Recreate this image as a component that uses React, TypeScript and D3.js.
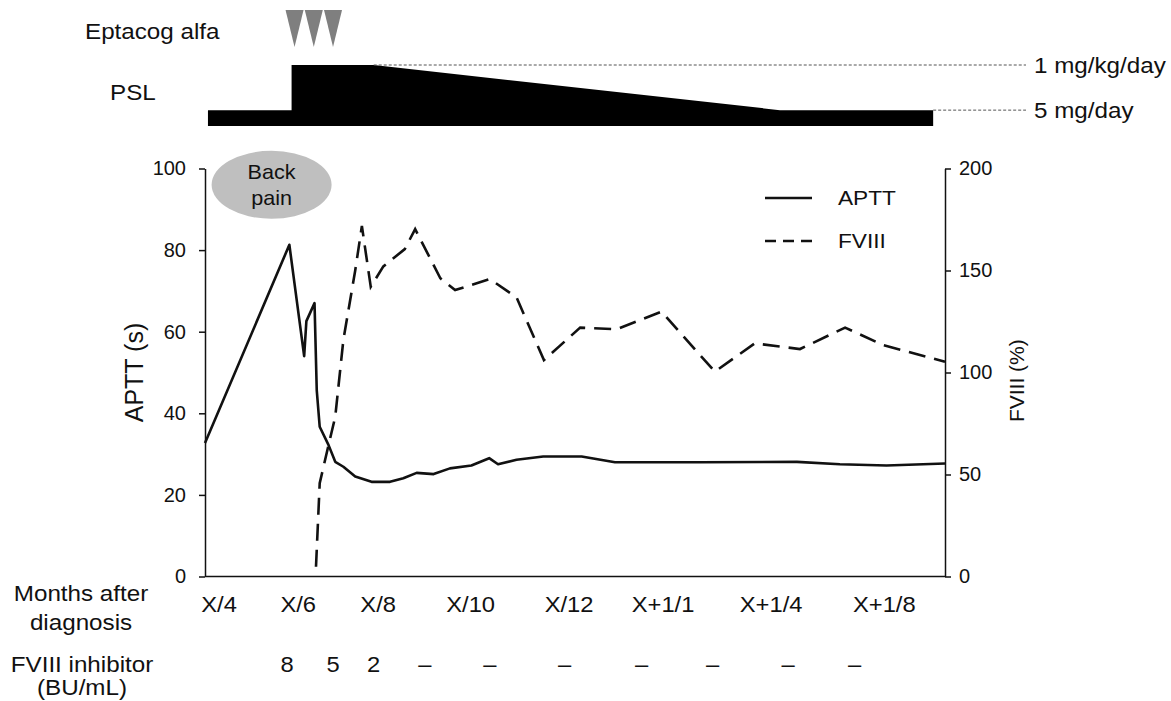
import { useEffect, useRef } from 'react'
import * as d3 from 'd3'

// timeline position (0-100 along x axis) for each label / point
const monthTicks = [1.9, 12.6, 23.4, 35.9, 49.2, 61.9, 76.5, 91.8]
const monthLabels = ['X/4', 'X/6', 'X/8', 'X/10', 'X/12', 'X+1/1', 'X+1/4', 'X+1/8']

const inhibitorT = [11.1, 17.3, 22.8, 29.7, 38.5, 48.6, 59.0, 68.6, 78.8, 87.8]
const inhibitorLabels = ['8', '5', '2', '–', '–', '–', '–', '–', '–', '–']

const apttT = [0, 11.4, 13.4, 13.7, 14.8, 15.1, 15.5, 16.7, 17.6, 18.7, 20.3, 22.5, 25.0, 26.8, 28.6, 30.9, 33.1, 36.0, 38.4, 39.6, 42.1, 45.7, 50.9, 55.4, 66.9, 80.0, 85.8, 92.1, 100]
const apttV = [32.7, 81.3, 54.0, 62.6, 67.0, 45.7, 36.7, 32.2, 28.1, 26.9, 24.5, 23.2, 23.2, 24.1, 25.4, 25.1, 26.5, 27.2, 29.0, 27.5, 28.6, 29.4, 29.4, 28.0, 28.0, 28.1, 27.5, 27.2, 27.7]

const fviiiT = [15.0, 15.5, 16.7, 17.6, 18.7, 20.3, 21.2, 22.4, 24.1, 27.0, 28.4, 31.8, 33.8, 38.5, 42.1, 45.8, 50.7, 55.6, 61.7, 68.9, 74.3, 80.4, 86.5, 91.6, 100]
const fviiiV = [4.8, 45.7, 64.5, 78.3, 116, 150, 171.8, 142, 152, 160.5, 170.3, 146.2, 140.4, 145.8, 136.8, 106.1, 122, 121.2, 129.8, 100.4, 114.3, 111.5, 122, 113.5, 105.3]

// PSL dose level (0 = none, 1 = 1 mg/kg/day), eptacog alfa doses
const pslT = [0.4, 11.7, 11.7, 22.8, 77.7, 98.4]
const pslLevel = [0.26, 0.26, 1, 1, 0.26, 0.26]
const eptacogT = [12.1, 14.7, 17.3]

const apttTicks = [0, 20, 40, 60, 80, 100]
const fviiiTicks = [0, 50, 100, 150, 200]

const FONT = '"Liberation Sans", Arial, sans-serif'
const INK = '#111'

export default function App() {
  const svgRef = useRef<SVGSVGElement>(null)

  useEffect(() => {
    if (!svgRef.current) return
    const svg = d3.select(svgRef.current)
    svg.selectAll('*').remove()

    const left = 205, right = 945, top = 168.5, bottom = 576.5

    const x = d3.scaleLinear().domain([0, 100]).range([left, right])
    const yL = d3.scaleLinear().domain([0, 100]).range([bottom, top])
    const yR = d3.scaleLinear().domain([0, 200]).range([bottom, top])
    const yP = d3.scaleLinear().domain([0, 1]).range([126, 65])

    // text is a bit wide in the original, so stretch horizontally
    const txt = (px: number, py: number, s: string, size = 20, anchor = 'start', sx = 1.08) =>
      svg.append('text')
        .attr('transform', `translate(${px},${py}) scale(${sx},1)`)
        .attr('text-anchor', anchor)
        .style('font-family', FONT)
        .style('font-size', size + 'px')
        .style('fill', INK)
        .text(s)

    // --- top panel: eptacog alfa + PSL
    txt(85, 39, 'Eptacog alfa', 22, 'start', 1.1)
    txt(110, 100, 'PSL', 22, 'start', 1.1)

    eptacogT.forEach(t => {
      const cx = x(t)
      svg.append('path')
        .attr('d', `M${cx - 9},10 L${cx + 9},10 L${cx},47 Z`)
        .style('fill', '#7f7f7f')
    })

    const pslArea = d3.area<number>()
      .x((_, i) => x(pslT[i]))
      .y0(yP(0))
      .y1(d => yP(d))
    svg.append('path')
      .datum(pslLevel)
      .attr('d', pslArea)
      .style('fill', '#000')

    svg.append('line')
      .attr('x1', x(pslT[3])).attr('x2', 1026)
      .attr('y1', yP(1)).attr('y2', yP(1))
      .style('stroke', '#555').style('stroke-width', 1).style('stroke-dasharray', '3,2')
    svg.append('line')
      .attr('x1', x(pslT[5])).attr('x2', 1026)
      .attr('y1', yP(0.26)).attr('y2', yP(0.26))
      .style('stroke', '#555').style('stroke-width', 1).style('stroke-dasharray', '3,2')
    txt(1034, yP(1) + 8, '1 mg/kg/day', 22, 'start', 1.1)
    txt(1034, yP(0.26) + 8, '5 mg/day', 22, 'start', 1.1)

    // --- back pain bubble
    svg.append('ellipse')
      .attr('cx', x(9)).attr('cy', yL(96))
      .attr('rx', 60).attr('ry', 34)
      .style('fill', '#bfbfbf')
    txt(x(9), yL(96) - 6, 'Back', 20, 'middle')
    txt(x(9), yL(96) + 20, 'pain', 20, 'middle')

    // --- axes
    const axisStyle = (g: d3.Selection<SVGGElement, unknown, null, undefined>) => {
      g.select('.domain').style('stroke', INK).style('stroke-width', 1.5)
      g.selectAll('.tick line').style('stroke', INK).style('stroke-width', 1.5)
      g.selectAll('.tick text')
        .style('font-family', FONT).style('font-size', '20px').style('fill', INK)
    }

    svg.append('g')
      .attr('transform', `translate(${left},0)`)
      .call(d3.axisLeft(yL).tickValues(apttTicks).tickSizeInner(6).tickSizeOuter(0).tickPadding(13))
      .call(axisStyle)

    svg.append('g')
      .attr('transform', `translate(${right},0)`)
      .call(d3.axisRight(yR).tickValues(fviiiTicks).tickSizeInner(6).tickSizeOuter(0).tickPadding(8))
      .call(axisStyle)

    svg.append('line')
      .attr('x1', left).attr('x2', right)
      .attr('y1', bottom).attr('y2', bottom)
      .style('stroke', INK).style('stroke-width', 1.5)

    // axis titles
    svg.append('text')
      .attr('transform', `translate(143,${yL(50)}) rotate(-90)`)
      .attr('text-anchor', 'middle')
      .style('font-family', FONT).style('font-size', '25px').style('fill', INK)
      .text('APTT (s)')
    svg.append('text')
      .attr('transform', `translate(1024,${yR(96)}) rotate(-90)`)
      .attr('text-anchor', 'middle')
      .style('font-family', FONT).style('font-size', '21px').style('fill', INK)
      .text('FVIII (%)')

    // --- lines
    const apttLine = d3.line<number>()
      .x((_, i) => x(apttT[i]))
      .y(d => yL(d))
    svg.append('path')
      .datum(apttV)
      .attr('d', apttLine)
      .style('fill', 'none').style('stroke', INK).style('stroke-width', 2.6)
      .style('stroke-linejoin', 'round')

    const fviiiLine = d3.line<number>()
      .x((_, i) => x(fviiiT[i]))
      .y(d => yR(d))
    svg.append('path')
      .datum(fviiiV)
      .attr('d', fviiiLine)
      .style('fill', 'none').style('stroke', INK).style('stroke-width', 2.6)
      .style('stroke-dasharray', '17,9')

    // legend
    svg.append('line')
      .attr('x1', 765).attr('x2', 812).attr('y1', 198).attr('y2', 198)
      .style('stroke', INK).style('stroke-width', 2.6)
    svg.append('line')
      .attr('x1', 765).attr('x2', 812).attr('y1', 241).attr('y2', 241)
      .style('stroke', INK).style('stroke-width', 2.6).style('stroke-dasharray', '11,7')
    txt(838, 205, 'APTT', 21)
    txt(838, 248, 'FVIII', 21)

    // --- bottom rows
    monthTicks.forEach((t, i) => txt(x(t), 612, monthLabels[i], 22, 'middle'))
    inhibitorT.forEach((t, i) => txt(x(t), 672, inhibitorLabels[i], 22, 'middle'))

    txt(81, 601, 'Months after', 22, 'middle', 1.1)
    txt(81, 630, 'diagnosis', 22, 'middle', 1.1)
    txt(82, 672, 'FVIII inhibitor', 22, 'middle', 1.1)
    txt(82, 695, '(BU/mL)', 22, 'middle', 1.1)
  }, [])

  return (
    <svg
      ref={svgRef}
      width={1171}
      height={701}
      style={{ position: 'absolute', left: 0, top: 0, background: '#fff' }}
    />
  )
}
